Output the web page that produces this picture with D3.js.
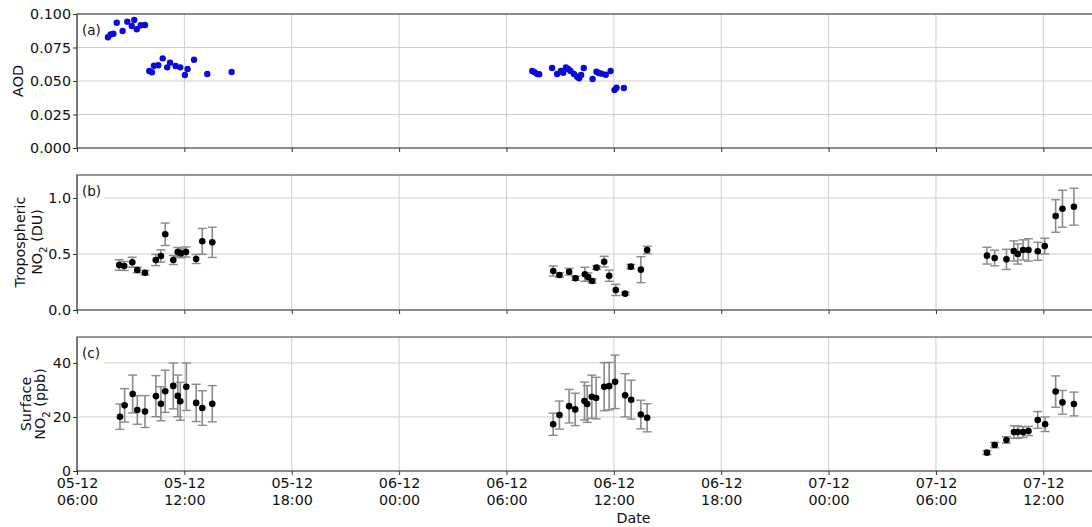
<!DOCTYPE html>
<html><head><meta charset="utf-8">
<script src="https://cdn.jsdelivr.net/npm/d3@7"></script>
<style>body{margin:0;background:#fff} text{font-family:"DejaVu Sans",sans-serif;fill:#111}</style>
</head><body>
<svg id="chart" width="1092" height="527"></svg>
<script>
// x values are hours along the plotted (compressed) time axis, 0 = "05-12 06:00"
const tickHours = [0, 6, 12, 18, 24, 30, 36, 42, 48, 54];
const tickLabels = [["05-12","06:00"],["05-12","12:00"],["05-12","18:00"],["06-12","00:00"],["06-12","06:00"],
                    ["06-12","12:00"],["06-12","18:00"],["07-12","00:00"],["07-12","06:00"],["07-12","12:00"]];

const aodHours = [1.73,1.88,2.03,2.22,2.55,2.81,3.06,3.20,3.34,3.56,3.80,
  4.04,4.19,4.30,4.54,4.79,5.04,5.20,5.51,5.77,6.03,6.18,6.54,7.28,8.64,
  25.44,25.57,25.72,25.83,26.55,26.83,27.04,27.17,27.32,27.45,27.58,27.77,27.95,28.06,28.17,28.32,28.81,29.03,29.16,29.31,29.55,29.82,30.04,30.15,30.56];
const aodValues = [0.0826,0.0848,0.0853,0.0935,0.0873,0.0943,0.0910,0.0955,0.0886,0.0916,0.0918,
  0.0575,0.0565,0.0614,0.0617,0.0669,0.0602,0.0637,0.0612,0.0602,0.0545,0.0590,0.0659,0.0552,0.0567,
  0.0575,0.0565,0.0552,0.0550,0.0597,0.0552,0.0575,0.0562,0.0602,0.0590,0.0575,0.0552,0.0532,0.0520,0.0545,0.0597,0.0515,0.0569,0.0560,0.0555,0.0547,0.0575,0.0433,0.0450,0.0448];

const tropHours = [2.36,2.64,3.09,3.37,3.80,4.40,4.69,4.93,5.38,5.63,5.81,6.09,6.66,7.00,7.56,
  26.61,26.96,27.50,27.86,28.38,28.56,28.79,29.03,29.46,29.74,30.11,30.63,30.95,31.51,31.86,
  50.85,51.28,51.94,52.35,52.57,52.87,53.17,53.69,54.08,54.69,55.07,55.71];
const tropValues = [0.402,0.393,0.426,0.357,0.333,0.446,0.482,0.676,0.446,0.518,0.506,0.518,0.455,0.613,0.604,
  0.348,0.313,0.342,0.283,0.319,0.295,0.259,0.378,0.431,0.306,0.179,0.146,0.387,0.360,0.536,
  0.485,0.464,0.452,0.527,0.500,0.536,0.536,0.524,0.571,0.839,0.904,0.922];
const tropErrors = [0.047,0.040,0.045,0.025,0.020,0.050,0.055,0.100,0.040,0.040,0.040,0.045,0.040,0.115,0.135,
  0.045,0.020,0.030,0.018,0.063,0.036,0.018,0.015,0.048,0.050,0.050,0.012,0.020,0.116,0.033,
  0.075,0.070,0.090,0.090,0.090,0.090,0.100,0.080,0.070,0.145,0.165,0.165];

const surfHours = [2.40,2.66,3.11,3.37,3.80,4.41,4.69,4.93,5.38,5.63,5.77,6.11,6.66,7.00,7.56,
  26.61,26.96,27.50,27.84,28.36,28.51,28.77,29.01,29.46,29.74,30.07,30.63,30.97,31.51,31.86,
  50.85,51.28,51.94,52.36,52.57,52.87,53.17,53.69,54.10,54.69,55.07,55.71];
const surfValues = [20.1,24.3,28.5,22.6,22.0,27.7,24.9,29.5,31.5,27.8,25.8,31.2,25.2,23.3,24.9,
  17.3,20.7,24.0,22.8,25.9,24.8,27.5,27.0,31.2,31.4,33.0,28.0,26.4,20.9,19.7,
  6.8,9.6,11.5,14.4,14.4,14.4,14.8,18.9,17.3,29.4,25.4,24.8];
const surfErrors = [4.7,6.2,7.0,5.3,5.9,7.6,6.3,7.8,8.5,7.7,7.0,8.8,6.9,6.4,6.7,
  4.1,5.2,6.2,6.0,7.0,6.8,8.0,7.7,8.9,8.8,9.9,8.0,7.2,5.3,5.2,
  0.7,1.0,1.2,2.3,2.3,2.0,1.7,3.1,2.7,5.8,4.4,4.4];

const aodTicks = [0, 0.025, 0.05, 0.075, 0.1];
const tropTicks = [0, 0.5, 1.0];
const surfTicks = [0, 20, 40];

const svg = d3.select("#chart");
const x = d3.scaleLinear().domain([0, 57]).range([77, 1097]);

const panels = [
  {label:"(a)", top:14, bottom:148, domain:[0,0.1], ticks:aodTicks, fmt:d3.format(".3f"),
   ylab:[["AOD",17.5]], ylabY:81},
  {label:"(b)", top:175, bottom:310, domain:[0,1.205], ticks:tropTicks, fmt:d3.format(".1f"),
   ylab:[["Tropospheric",20],["NO|2| (DU)",36.5]], ylabY:242},
  {label:"(c)", top:337, bottom:471, domain:[0,49.6], ticks:surfTicks, fmt:d3.format("d"),
   ylab:[["Surface",25.5],["NO|2| (ppb)",39.5]], ylabY:404}
];
panels.forEach(p => p.y = d3.scaleLinear().domain(p.domain).range([p.bottom, p.top]));

const gridColor = "#cfcfcf";
panels.forEach((p, i) => {
  const g = svg.append("g");
  // grid
  g.selectAll(".vg").data(tickHours).join("line")
    .attr("x1", d => x(d)).attr("x2", d => x(d)).attr("y1", p.top).attr("y2", p.bottom)
    .attr("stroke", gridColor).attr("stroke-width", 1);
  g.selectAll(".hg").data(p.ticks).join("line")
    .attr("x1", x.range()[0]).attr("x2", x.range()[1]).attr("y1", d => p.y(d)).attr("y2", d => p.y(d))
    .attr("stroke", gridColor).attr("stroke-width", 1);
  // label box
  g.append("rect").attr("x", 78).attr("y", p.top + 4).attr("width", 26).attr("height", 26).attr("fill", "#fff");
  g.append("text").attr("x", 82).attr("y", p.top + 21).attr("font-size", 13.5).text(p.label);

  // axes ticks
  const yAxis = d3.axisLeft(p.y).tickValues(p.ticks).tickFormat(p.fmt).tickSize(4).tickPadding(2);
  const ya = g.append("g").attr("transform", `translate(${x.range()[0]},0)`).call(yAxis);
  ya.select(".domain").remove();
  ya.selectAll("text").attr("font-size", 14.3).attr("font-family", "DejaVu Sans").attr("fill", "#111");
  ya.selectAll("line").attr("stroke", "#333");

  const xAxis = d3.axisBottom(x).tickValues(tickHours).tickSize(4).tickFormat("");
  const xa = g.append("g").attr("transform", `translate(0,${p.bottom})`).call(xAxis);
  xa.select(".domain").remove();
  xa.selectAll("line").attr("stroke", "#333");
  if (i === 2) {
    xa.selectAll(".tick").each(function(d, k) {
      const t = d3.select(this);
      t.append("text").attr("y", 17).attr("fill", "#111").attr("font-size", 14.3)
        .attr("text-anchor", "middle").text(tickLabels[k][0]);
      t.append("text").attr("y", 34).attr("fill", "#111").attr("font-size", 14.3)
        .attr("text-anchor", "middle").text(tickLabels[k][1]);
    });
  }

  // spines: left, top, bottom
  g.append("path").attr("d", `M${x.range()[1]},${p.top}H${x.range()[0]}V${p.bottom}H${x.range()[1]}`)
    .attr("fill", "none").attr("stroke", "#333").attr("stroke-width", 1.2);

  // y labels
  p.ylab.forEach(([txt, cx]) => {
    const t = g.append("text").attr("transform", `translate(${cx},${p.ylabY}) rotate(-90)`)
      .attr("text-anchor", "middle").attr("dominant-baseline", "central").attr("font-size", 14.3);
    const parts = txt.split("|");
    if (parts.length === 1) t.text(txt);
    else {
      t.append("tspan").text(parts[0]);
      t.append("tspan").attr("baseline-shift", "sub").attr("font-size", "72%").text(parts[1]);
      t.append("tspan").text(parts[2]);
    }
  });
});

// (a) AOD points
const pa = panels[0];
svg.append("g").selectAll("circle").data(d3.range(aodHours.length)).join("circle")
  .attr("cx", i => x(aodHours[i])).attr("cy", i => pa.y(aodValues[i])).attr("r", 3.2)
  .attr("fill", "#0a0ad8");

function errPanel(p, hrs, vals, errs) {
  const g = svg.append("g");
  const idx = d3.range(hrs.length);
  const cap = 4.5;
  g.selectAll(".eb").data(idx).join("line")
    .attr("x1", i => x(hrs[i])).attr("x2", i => x(hrs[i]))
    .attr("y1", i => p.y(vals[i] - errs[i])).attr("y2", i => p.y(vals[i] + errs[i]))
    .attr("stroke", "#8a8a8a").attr("stroke-width", 1.6);
  g.selectAll(".ct").data(idx).join("line")
    .attr("x1", i => x(hrs[i]) - cap).attr("x2", i => x(hrs[i]) + cap)
    .attr("y1", i => p.y(vals[i] + errs[i])).attr("y2", i => p.y(vals[i] + errs[i]))
    .attr("stroke", "#8a8a8a").attr("stroke-width", 1.4);
  g.selectAll(".cb").data(idx).join("line")
    .attr("x1", i => x(hrs[i]) - cap).attr("x2", i => x(hrs[i]) + cap)
    .attr("y1", i => p.y(vals[i] - errs[i])).attr("y2", i => p.y(vals[i] - errs[i]))
    .attr("stroke", "#8a8a8a").attr("stroke-width", 1.4);
  g.selectAll("circle").data(idx).join("circle")
    .attr("cx", i => x(hrs[i])).attr("cy", i => p.y(vals[i])).attr("r", 3.3).attr("fill", "#000");
}
errPanel(panels[1], tropHours, tropValues, tropErrors);
errPanel(panels[2], surfHours, surfValues, surfErrors);

svg.append("text").attr("x", x(31.1)).attr("y", 523).attr("text-anchor", "middle")
  .attr("font-size", 14.3).text("Date");
</script>
</body></html>
